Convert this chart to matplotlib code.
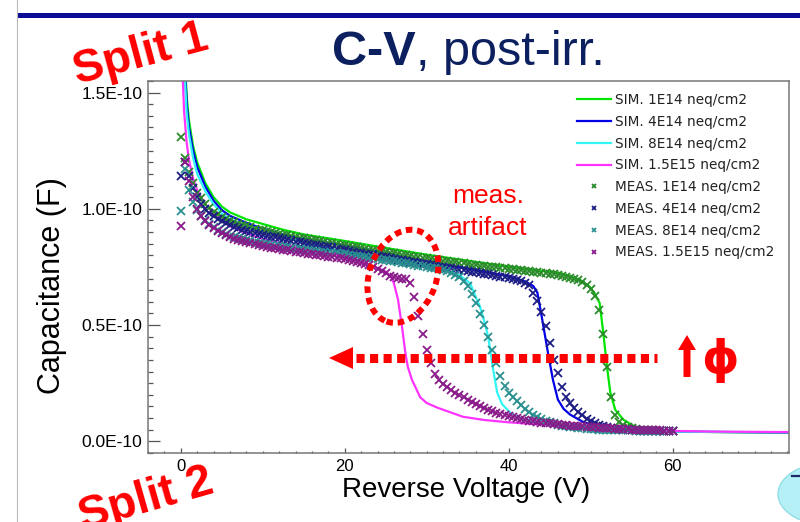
import matplotlib
matplotlib.use("Agg")
import matplotlib.pyplot as plt
import numpy as np
from matplotlib.lines import Line2D
from matplotlib.patches import Ellipse, FancyArrow, Polygon, Rectangle
from matplotlib.ticker import FuncFormatter, MultipleLocator
from matplotlib.transforms import IdentityTransform

W, H = 800, 522

# simulated C-V curves: reverse voltage (V), capacitance (1e-10 F)
v_sim_1e14 = [0.55, 0.75, 1, 1.5, 2, 3, 4, 5, 6, 8, 10, 12.5, 15, 20, 25, 30, 35, 40, 43,
              46.3, 48.7, 49.9, 50.5, 51.1, 51.5, 52, 52.4, 53, 54, 55.6, 58.5, 65, 74.2]
c_sim_1e14 = [1.6, 1.47, 1.38, 1.27, 1.2, 1.11, 1.05, 1.01, .985, .955, .935, .91, .89, .862, .832,
              .803, .777, .752, .737, .724, .695, .665, .635, .595, .48, .32, .21, .136, .093, .059,
              .044, .04, .038]

v_sim_4e14 = [0.5, 0.75, 1, 1.5, 2, 3, 4, 5, 6, 8, 10, 12.5, 15, 20, 25, 30, 35, 40, 42, 43,
              43.5, 44.1, 44.8, 45.4, 46, 46.7, 47.5, 49, 51, 53, 56, 60, 74.2]
c_sim_4e14 = [1.6, 1.44, 1.35, 1.25, 1.18, 1.095, 1.035, .995, .97, .94, .915, .89, .87, .843, .81,
              .775, .743, .71, .688, .668, .64, .523, .38, .265, .18, .14, .115, .085, .062, .05,
              .045, .042, .038]

v_sim_8e14 = [0.45, 0.7, 1, 1.5, 2, 3, 4, 5, 6, 8, 10, 12.5, 15, 20, 25, 30, 32, 34, 35.3, 36,
              36.5, 37, 37.5, 38.1, 38.6, 39.2, 40.2, 41.5, 43, 45, 48, 52, 56, 60, 74.2]
c_sim_8e14 = [1.6, 1.42, 1.32, 1.22, 1.15, 1.075, 1.02, .98, .955, .925, .902, .88, .855, .815, .785,
              .755, .74, .715, .68, .62, .58, .52, .45, .31, .21, .16, .123, .1, .083, .07, .058,
              .05, .045, .042, .039]

v_sim_15e15 = [0.2, 0.4, 0.7, 1, 1.5, 2, 3, 4, 5, 6, 8, 10, 12.5, 15, 20, 22, 24, 25, 25.6, 26,
               26.5, 27, 27.4, 27.7, 28.2, 29.2, 30, 31.3, 34.4, 37, 40, 45, 50, 55, 60, 65, 74.2]
c_sim_15e15 = [1.6, 1.42, 1.29, 1.21, 1.13, 1.08, 1.02, .98, .95, .925, .895, .87, .85, .83, .79,
               .77, .745, .73, .71, .68, .61, .49, .38, .32, .265, .19, .165, .145, .106, .092,
               .082, .07, .06, .05, .045, .042, .04]

# measured sweeps, one point every 0.5 V from 0 to 60 V (1e-10 F)
v_meas = np.arange(0, 60.25, 0.5)

c_meas_1e14 = [
    1.31, 1.22, 1.16, 1.11, 1.07, 1.045, 1.02, 1.003, .988, .976, .966, .957, .949, .942, .936,
    .930, .925, .920, .915, .911, .907,
    .903, .899, .896, .892, .889, .886, .883, .879, .876, .873,
    .870, .867, .864, .861, .858, .855, .852, .849, .846, .843,
    .840, .837, .834, .831, .828, .825, .822, .820, .817, .814,
    .811, .808, .805, .802, .800, .797, .794, .792, .789, .787,
    .784, .782, .779, .777, .774, .772, .770, .767, .765, .763,
    .760, .758, .756, .754, .752, .750, .748, .746, .744, .742,
    .740, .738, .736, .734, .732, .730, .728, .726, .723, .721,
    .718, .715, .712, .708, .704, .699, .693, .685, .674, .657,
    .625, .565, .46, .32, .19, .115, .085, .070, .062, .056,
    .053, .051, .049, .048, .047, .046, .046, .045, .045, .044]

c_meas_4e14 = [
    1.14, 1.20, 1.14, 1.09, 1.05, 1.022, .998, .982, .968, .957, .947, .938, .930, .923, .917,
    .911, .906, .901, .896, .892, .888,
    .884, .880, .877, .873, .870, .866, .863, .859, .856, .853,
    .850, .846, .843, .840, .837, .834, .830, .827, .824, .821,
    .818, .815, .812, .809, .806, .803, .800, .797, .794, .791,
    .788, .785, .782, .779, .776, .773, .770, .767, .764, .761,
    .758, .755, .752, .749, .746, .744, .741, .738, .735, .732,
    .729, .727, .724, .721, .718, .715, .712, .709, .706, .703,
    .699, .694, .688, .681, .671, .640, .605, .555, .495, .425,
    .350, .295, .232, .190, .165, .145, .128, .112, .098, .086,
    .077, .070, .064, .060, .057, .054, .052, .050, .049, .048,
    .047, .046, .046, .045, .045, .045, .044, .044, .044, .044]

c_meas_8e14 = [
    .99, 1.17, 1.08, 1.03, .995, .970, .950, .935, .922, .910, .900, .892, .885, .879, .874,
    .869, .865, .861, .857, .853, .850,
    .847, .844, .842, .839, .837, .834, .832, .829, .827, .825,
    .822, .820, .818, .816, .814, .812, .810, .808, .806, .804,
    .801, .799, .797, .794, .792, .789, .787, .784, .782, .779,
    .776, .774, .771, .768, .765, .762, .759, .756, .753, .750,
    .747, .744, .740, .736, .731, .725, .717, .706, .690, .668,
    .635, .595, .548, .500, .450, .395, .335, .280, .240, .210,
    .190, .172, .155, .140, .125, .113, .103, .095, .088, .082,
    .077, .072, .068, .065, .062, .060, .058, .056, .054, .053,
    .052, .051, .050, .049, .049, .048, .048, .047, .047, .047,
    .046, .046, .046, .045, .045, .045, .045, .044, .044, .044]

c_meas_15e15 = [
    .927, 1.20, 1.12, 1.05, 1.00, .970, .948, .932, .918, .906, .896, .887, .879, .872, .866,
    .861, .856, .851, .847, .843, .839,
    .836, .833, .830, .827, .824, .821, .818, .815, .813, .810,
    .807, .805, .802, .800, .797, .795, .792, .790, .787, .785,
    .781, .777, .773, .768, .763, .757, .750, .742, .733, .722,
    .712, .705, .701, .699, .698, .680, .620, .540, .460, .395,
    .335, .290, .262, .245, .232, .220, .210, .200, .190, .180,
    .170, .160, .151, .143, .136, .129, .123, .117, .112, .107,
    .103, .099, .095, .092, .089, .086, .083, .081, .079, .077,
    .075, .073, .071, .070, .068, .066, .065, .064, .062, .061,
    .060, .059, .058, .057, .056, .055, .054, .053, .052, .051,
    .050, .050, .049, .048, .048, .047, .047, .046, .046, .045]

sim_v = [v_sim_1e14, v_sim_4e14, v_sim_8e14, v_sim_15e15]
sim_c = [c_sim_1e14, c_sim_4e14, c_sim_8e14, c_sim_15e15]
meas_c = [c_meas_1e14, c_meas_4e14, c_meas_8e14, c_meas_15e15]

sim_labels = ["SIM. 1E14 neq/cm2", "SIM. 4E14 neq/cm2", "SIM. 8E14 neq/cm2", "SIM. 1.5E15 neq/cm2"]
meas_labels = ["MEAS. 1E14 neq/cm2", "MEAS. 4E14 neq/cm2", "MEAS. 8E14 neq/cm2", "MEAS. 1.5E15 neq/cm2"]
sim_colors = ["#00e600", "#0000e6", "#33f5f5", "#ff33ff"]
meas_colors = ["#2a8a2a", "#1c1c84", "#2a8f8f", "#8a1a8a"]

x_ticks = [0, 20, 40, 60]

ARIAL = "Liberation Sans"
RED = "#ff0000"
ident = IdentityTransform()

fig = plt.figure(figsize=(W / 100, H / 100), dpi=100)
ax = fig.add_axes([148 / W, (H - 453) / H, (789 - 148) / W, (453 - 80.5) / H])

for v, c, col, lab in zip(sim_v, sim_c, sim_colors, sim_labels):
    ax.plot(v, np.array(c) * 1e-10, color=col, lw=1.6, label=lab, zorder=2)
for c, col, lab in zip(meas_c, meas_colors, meas_labels):
    ax.plot(v_meas, np.array(c) * 1e-10, ls="none", marker="x", ms=5.5, mew=1.3,
            color=col, label=lab, zorder=3)

ax.set_xlim(-4, 74.2)
ax.set_ylim(-0.05e-10, 1.552e-10)
ax.set_xticks(x_ticks)
ax.xaxis.set_minor_locator(MultipleLocator(2))
ax.yaxis.set_major_locator(MultipleLocator(0.5e-10))
ax.yaxis.set_minor_locator(MultipleLocator(0.05e-10))
ax.yaxis.set_major_formatter(FuncFormatter(lambda v, p: f"{abs(v) * 1e10:.1f}E-10"))
ax.tick_params(which="both", direction="in", color="#555555", width=0.9)
ax.tick_params(axis="x", which="major", length=3.8, pad=4, labelsize=12)
ax.tick_params(axis="x", which="minor", length=1.8)
ax.tick_params(axis="y", which="major", length=8.4, pad=4, labelsize=12.5)
ax.tick_params(axis="y", which="minor", length=3.6)
for lab in ax.get_xticklabels() + ax.get_yticklabels():
    lab.set_fontfamily(ARIAL)
for sp in ax.spines.values():
    sp.set_color("#777777")
    sp.set_linewidth(1.1)

ax.set_xlabel("Reverse Voltage (V)", fontsize=20, family=ARIAL, va="center")
ax.xaxis.set_label_coords(0.496, -0.099)
ax.set_ylabel("Capacitance (F)", fontsize=22, family=ARIAL, va="center")
ax.yaxis.set_label_coords(-0.15, 0.45)

ax.legend(loc="upper left", bbox_to_anchor=(577 / W, 1 - 93 / H), bbox_transform=fig.transFigure,
          frameon=False, prop={"family": "DejaVu Sans", "size": 9.8}, labelcolor="#222222",
          handlelength=2.5, handletextpad=0.3, labelspacing=0.57, borderpad=0,
          borderaxespad=0, markerscale=0.6)

# slide decoration: header bar, left border, speech bubble
fig.add_artist(Rectangle((17, H - 17.5), W - 17, 5, transform=ident, color="#0c0c96", lw=0))
fig.add_artist(Line2D([17, 17], [0, H], transform=ident, color="#b8b8b8", lw=0.8))
fig.add_artist(Ellipse((832, H - 494), 108, 64, transform=ident, facecolor="#b5f0f6",
                       edgecolor="#8fdde6", lw=1))
fig.add_artist(Line2D([792, 799], [H - 476, H - 476], transform=ident, color="#1c2a6a", lw=1.6))

# title
t1 = fig.text(332 / W, 1 - 65 / H, "C-V", fontsize=35, fontweight="bold", color="#0c1f5e",
              family=ARIAL, va="baseline", ha="left")
fig.canvas.draw()
bb = t1.get_window_extent()
fig.text(bb.x1 / W, 1 - 65 / H, ", post-irr.", fontsize=35, color="#0c1f5e",
         family=ARIAL, va="baseline", ha="left")

fig.text(141 / W, 1 - 55 / H, "Split 1", fontsize=33, fontweight="bold", color=RED,
         family=ARIAL, rotation=15, ha="center", va="center", rotation_mode="anchor")
fig.text(146 / W, 1 - 500 / H, "Split 2", fontsize=33, fontweight="bold", color=RED,
         family=ARIAL, rotation=16, ha="center", va="center", rotation_mode="anchor")

# annotation of the measurement artifact
fig.text(488 / W, 1 - 196 / H, "meas.", fontsize=19, color=RED, family=ARIAL, ha="center", va="center")
fig.text(488 / W, 1 - 228 / H, "artifact", fontsize=19, color=RED, family=ARIAL, ha="center", va="center")
cx, cy = ax.transData.transform((27.1, 0.71e-10))
fig.add_artist(Ellipse((cx, cy), 67, 96, angle=-20, transform=ident, fill=False, edgecolor=RED,
                       lw=4.3, linestyle=(0, (1.1, 0.8))))

# fluence arrow
ay = H - 358
fig.add_artist(Line2D([356, 657], [ay, ay], transform=ident, color=RED, lw=6.5,
                      linestyle=(0, (0.9, 0.6)), solid_capstyle="butt", dash_capstyle="butt"))
fig.add_artist(Polygon([[329, ay], [353, ay + 11], [353, ay - 11]], closed=True,
                       transform=ident, color=RED, lw=0))
fig.add_artist(FancyArrow(687, H - 377, 0, 42, width=7, head_width=18, head_length=15,
                          length_includes_head=True, transform=ident, color=RED, lw=0))
fig.text(720 / W, 1 - 373 / H, "ϕ", fontsize=34, fontweight="bold", color=RED,
         family="DejaVu Sans", ha="center", va="baseline")

fig.savefig("out.png", dpi=100)
